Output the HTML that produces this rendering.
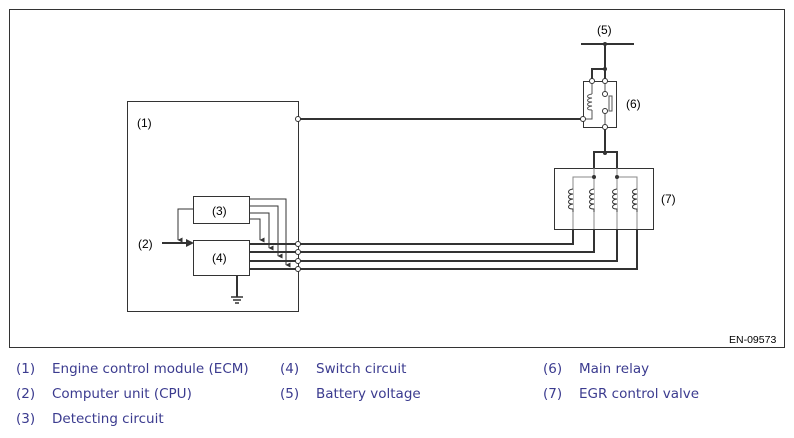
<!DOCTYPE html>
<html><head><style>
body{margin:0;background:#fff;width:794px;height:438px;overflow:hidden;position:relative}
.l{position:absolute;font-family:"DejaVu Sans",sans-serif;font-size:13.5px;color:#3b3b8f;white-space:nowrap}
</style></head><body>
<svg width="794" height="438" style="position:absolute;left:0;top:0" font-family="Liberation Sans,sans-serif" font-size="12" fill="#000">
<defs><marker id="a" markerWidth="5" markerHeight="5" refX="2.5" refY="4.5" orient="auto" markerUnits="userSpaceOnUse"><path d="M0,0 L5,0 L2.5,5 Z" fill="#333"/></marker></defs>
<rect x="9.5" y="9.5" width="775" height="338" fill="none" stroke="#333"/>
<text x="729" y="343" font-size="10.5">EN-09573</text>
<rect x="127.5" y="101.5" width="171" height="210" fill="none" stroke="#333"/>
<text x="137" y="127">(1)</text>
<rect x="193.5" y="196.5" width="56" height="27" fill="none" stroke="#333"/>
<text x="212" y="215">(3)</text>
<rect x="193.5" y="240.5" width="56" height="35" fill="none" stroke="#333"/>
<text x="212" y="262">(4)</text>
<text x="138" y="248">(2)</text>
<line x1="162" y1="243" x2="186" y2="243" stroke="#333" stroke-width="2"/>
<path d="M186,239 L194,243 L186,247Z" fill="#333"/>
<g fill="none" stroke="#333" stroke-width="1">
<path d="M193,209 H178 V240" marker-end="url(#a)"/>
<path d="M249,199 H286 V265" marker-end="url(#a)"/>
<path d="M249,206 H278 V256" marker-end="url(#a)"/>
<path d="M249,213 H269 V248" marker-end="url(#a)"/>
<path d="M249,219 H260 V240" marker-end="url(#a)"/>
</g>
<g stroke="#333" stroke-width="2" fill="none">
<path d="M237,275 V297"/>
<path d="M231,297 H243 M233,300 H241 M235,303 H239" stroke-width="1.5"/>
<path d="M249,244 H573 V229"/>
<path d="M249,252 H594 V229"/>
<path d="M249,261 H617 V229"/>
<path d="M249,269 H637 V229"/>
<path d="M298,119 H583"/>
<path d="M581,44 H634"/>
<path d="M605,44 V81"/>
<path d="M592,81 V69 H605"/>
<path d="M605,127 V154"/>
<path d="M594,168 V152 H617 V168"/>
</g>
<g fill="#fff" stroke="#333">
<circle cx="298" cy="244" r="2.5"/><circle cx="298" cy="252" r="2.5"/><circle cx="298" cy="261" r="2.5"/><circle cx="298" cy="269" r="2.5"/>
<circle cx="298" cy="119" r="2.5"/>
</g>
<circle cx="605" cy="44" r="2" fill="#333"/><circle cx="605" cy="69" r="2" fill="#333"/><circle cx="605" cy="153" r="2" fill="#333"/>
<text x="597" y="34">(5)</text>
<rect x="583.5" y="81.5" width="33" height="46" fill="none" stroke="#333"/>
<g fill="none" stroke="#555" stroke-width="1">
<path d="M592,81 V94 M592,110 V119 H583"/>
<path d="M592,94 c-6,1 -6,4 0,4 c-6,1 -6,4 0,4 c-6,1 -6,4 0,4 c-6,1 -6,4 0,4"/>
<path d="M605,81 V93 M605,111 V127"/>
<rect x="609" y="96" width="3" height="15"/>
</g>
<g fill="#fff" stroke="#333"><circle cx="592" cy="81" r="2.5"/><circle cx="605" cy="81" r="2.5"/><circle cx="605" cy="94" r="2.5"/><circle cx="605" cy="111" r="2.5"/><circle cx="605" cy="127" r="2.5"/><circle cx="583" cy="119" r="2.5"/></g>
<text x="626" y="108">(6)</text>
<rect x="554.5" y="168.5" width="99" height="61" fill="none" stroke="#333"/>
<g fill="none" stroke="#888" stroke-width="1">
<path d="M594,168 V177 M617,168 V177"/>
<path d="M573,229 V177 H594 V229 M617,229 V177 H637 V229"/>
</g>
<g fill="#fff" stroke="#333" stroke-width="1">
<path d="M573,189 c-6,1 -6,5 0,5 c-6,1 -6,5 0,5 c-6,1 -6,5 0,5 c-6,1 -6,5 0,5 V212" />
<path d="M594,189 c-6,1 -6,5 0,5 c-6,1 -6,5 0,5 c-6,1 -6,5 0,5 c-6,1 -6,5 0,5 V212" />
<path d="M617,189 c-6,1 -6,5 0,5 c-6,1 -6,5 0,5 c-6,1 -6,5 0,5 c-6,1 -6,5 0,5 V212" />
<path d="M637,189 c-6,1 -6,5 0,5 c-6,1 -6,5 0,5 c-6,1 -6,5 0,5 c-6,1 -6,5 0,5 V212" />
</g>
<circle cx="594" cy="177" r="2" fill="#333"/><circle cx="617" cy="177" r="2" fill="#333"/>
<text x="661" y="203">(7)</text>
</svg>
<div class="l" style="left:16px;top:361px">(1)</div><div class="l" style="left:52px;top:361px">Engine control module (ECM)</div>
<div class="l" style="left:16px;top:386px">(2)</div><div class="l" style="left:52px;top:386px">Computer unit (CPU)</div>
<div class="l" style="left:16px;top:411px">(3)</div><div class="l" style="left:52px;top:411px">Detecting circuit</div>
<div class="l" style="left:280px;top:361px">(4)</div><div class="l" style="left:316px;top:361px">Switch circuit</div>
<div class="l" style="left:280px;top:386px">(5)</div><div class="l" style="left:316px;top:386px">Battery voltage</div>
<div class="l" style="left:543px;top:361px">(6)</div><div class="l" style="left:579px;top:361px">Main relay</div>
<div class="l" style="left:543px;top:386px">(7)</div><div class="l" style="left:579px;top:386px">EGR control valve</div>
</body></html>
